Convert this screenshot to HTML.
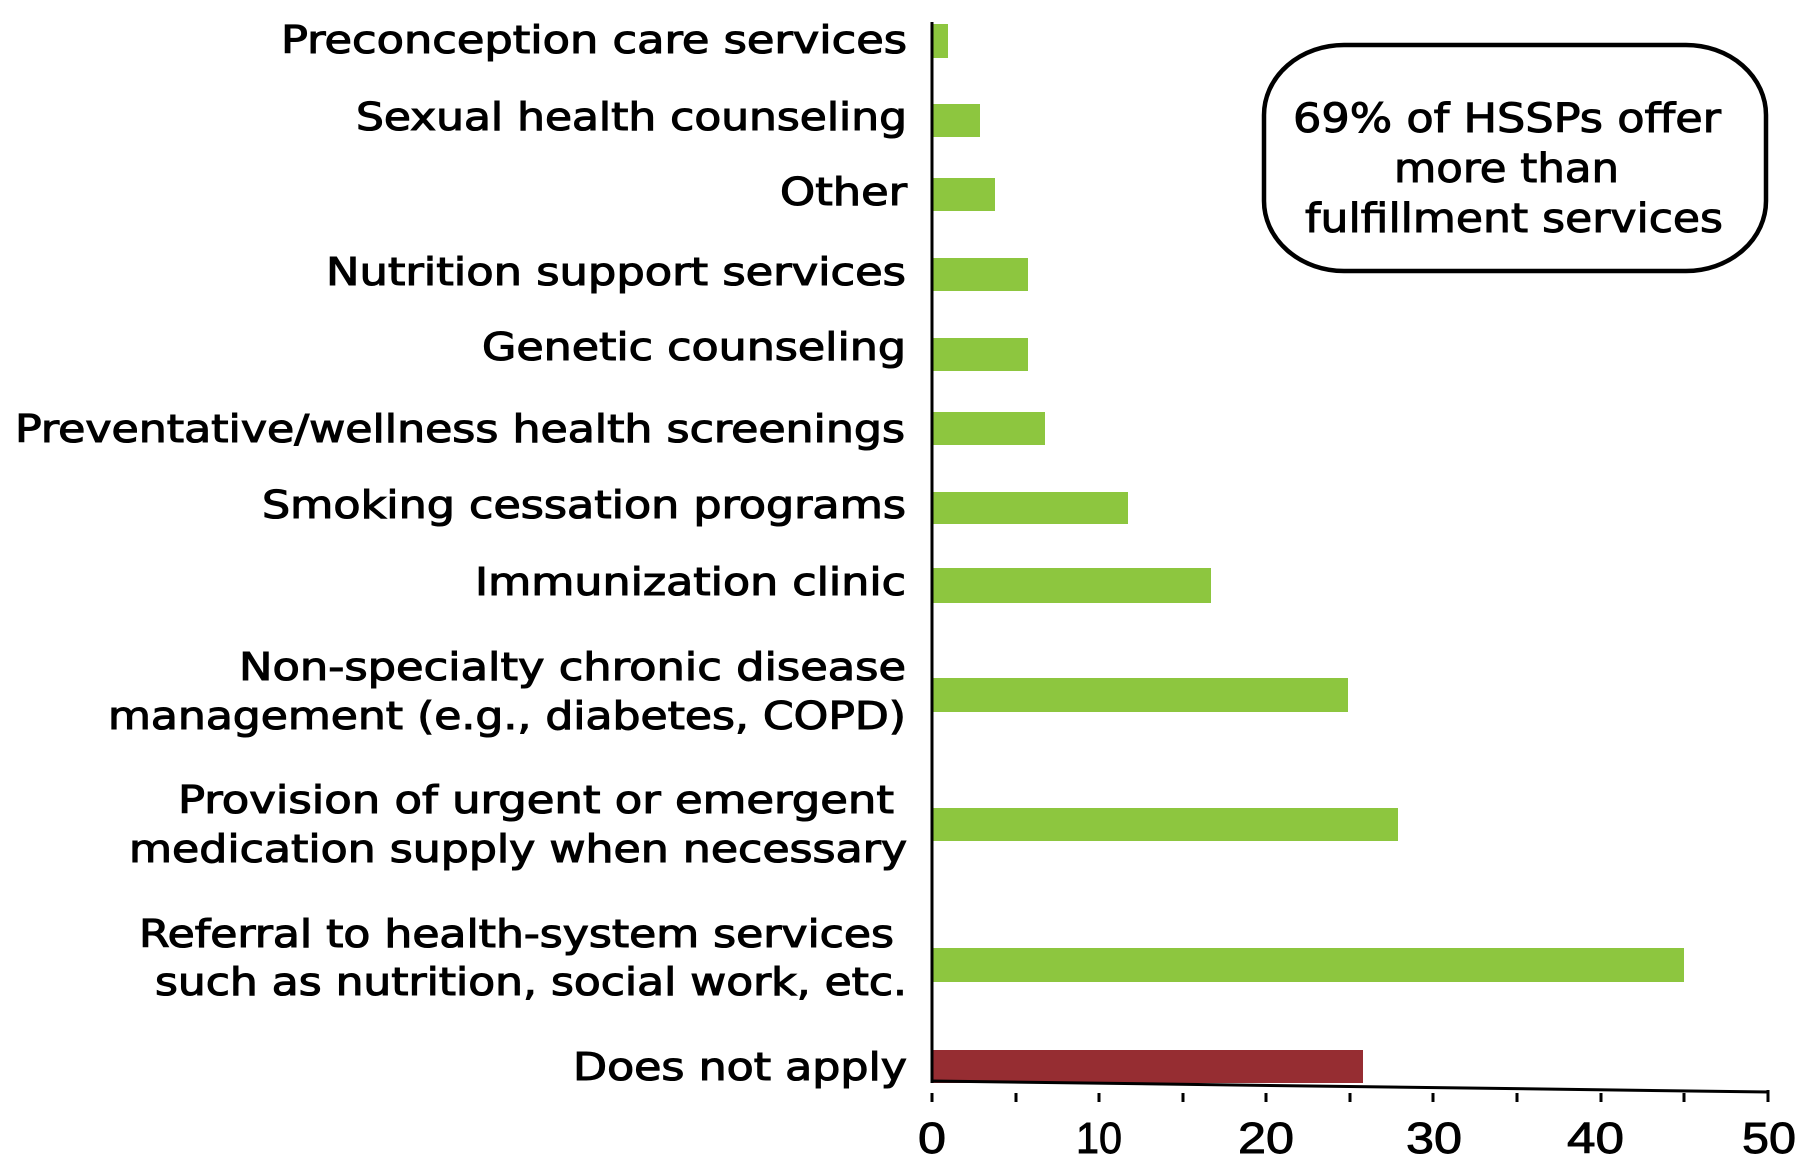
<!DOCTYPE html>
<html>
<head>
<meta charset="utf-8">
<style>
  html, body { margin: 0; padding: 0; background: #ffffff; }
  svg { display: block; }
  .lbl { font-family: "DejaVu Sans", "Liberation Sans", sans-serif; font-size: 38px; fill: #000; stroke: #000; stroke-width: 1.1px; }
  .tick { font-family: "Liberation Sans", sans-serif; font-size: 44px; fill: #000; stroke: #000; stroke-width: 0.9px; }
  .call { font-family: "DejaVu Sans", "Liberation Sans", sans-serif; font-size: 40px; fill: #000; stroke: #000; stroke-width: 1px; }
</style>
</head>
<body>
<svg width="1800" height="1173" viewBox="0 0 1800 1173" xmlns="http://www.w3.org/2000/svg">
  <rect x="0" y="0" width="1800" height="1173" fill="#ffffff"/>

  <!-- bars -->
  <g fill="#8DC63F">
    <rect x="933" y="24" width="15" height="34"/>
    <rect x="933" y="104" width="47" height="33"/>
    <rect x="933" y="178" width="62" height="33"/>
    <rect x="933" y="258" width="95" height="33"/>
    <rect x="933" y="338" width="95" height="33"/>
    <rect x="933" y="412" width="112" height="33"/>
    <rect x="933" y="492" width="195" height="32"/>
    <rect x="933" y="568" width="278" height="35"/>
    <rect x="933" y="678" width="415" height="34"/>
    <rect x="933" y="808" width="465" height="33"/>
    <rect x="933" y="948" width="751" height="34"/>
  </g>
  <rect x="933" y="1050" width="430" height="33" fill="#962D32"/>

  <!-- axes -->
  <line x1="932" y1="22" x2="932" y2="1083" stroke="#000" stroke-width="3"/>
  <line x1="931" y1="1081" x2="1769" y2="1092" stroke="#000" stroke-width="3"/>
  <g stroke="#000" stroke-width="3">
    <line x1="932" y1="1093" x2="932" y2="1102"/>
    <line x1="1016" y1="1093" x2="1016" y2="1102"/>
    <line x1="1099" y1="1093" x2="1099" y2="1102"/>
    <line x1="1183" y1="1093" x2="1183" y2="1102"/>
    <line x1="1266" y1="1093" x2="1266" y2="1102"/>
    <line x1="1350" y1="1093" x2="1350" y2="1102"/>
    <line x1="1433" y1="1093" x2="1433" y2="1102"/>
    <line x1="1517" y1="1093" x2="1517" y2="1102"/>
    <line x1="1601" y1="1093" x2="1601" y2="1102"/>
    <line x1="1684" y1="1093" x2="1684" y2="1102"/>
    <line x1="1768" y1="1090" x2="1768" y2="1102"/>
  </g>

  <!-- tick labels -->
  <g class="tick">
    <text x="918" y="1153" textLength="28" lengthAdjust="spacingAndGlyphs">0</text>
    <text x="1076" y="1153" textLength="46" lengthAdjust="spacingAndGlyphs">10</text>
    <text x="1238" y="1153" textLength="56" lengthAdjust="spacingAndGlyphs">20</text>
    <text x="1406" y="1153" textLength="56" lengthAdjust="spacingAndGlyphs">30</text>
    <text x="1567" y="1153" textLength="57" lengthAdjust="spacingAndGlyphs">40</text>
    <text x="1742" y="1153" textLength="54" lengthAdjust="spacingAndGlyphs">50</text>
  </g>

  <!-- category labels -->
  <g class="lbl">
    <text x="281" y="53" textLength="626" lengthAdjust="spacingAndGlyphs">Preconception care services</text>
    <text x="356" y="130" textLength="551" lengthAdjust="spacingAndGlyphs">Sexual health counseling</text>
    <text x="780" y="205" textLength="127" lengthAdjust="spacingAndGlyphs">Other</text>
    <text x="326" y="285" textLength="580" lengthAdjust="spacingAndGlyphs">Nutrition support services</text>
    <text x="482" y="360" textLength="424" lengthAdjust="spacingAndGlyphs">Genetic counseling</text>
    <text x="15" y="442" textLength="890" lengthAdjust="spacingAndGlyphs">Preventative/wellness health screenings</text>
    <text x="262" y="518" textLength="644" lengthAdjust="spacingAndGlyphs">Smoking cessation programs</text>
    <text x="475" y="595" textLength="431" lengthAdjust="spacingAndGlyphs">Immunization clinic</text>
    <text x="239" y="680" textLength="667" lengthAdjust="spacingAndGlyphs">Non-specialty chronic disease</text>
    <text x="108" y="729" textLength="798" lengthAdjust="spacingAndGlyphs">management (e.g., diabetes, COPD)</text>
    <text x="178" y="813" textLength="716" lengthAdjust="spacingAndGlyphs">Provision of urgent or emergent</text>
    <text x="129" y="862" textLength="778" lengthAdjust="spacingAndGlyphs">medication supply when necessary</text>
    <text x="139" y="947" textLength="755" lengthAdjust="spacingAndGlyphs">Referral to health-system services</text>
    <text x="155" y="995" textLength="752" lengthAdjust="spacingAndGlyphs">such as nutrition, social work, etc.</text>
    <text x="573" y="1080" textLength="334" lengthAdjust="spacingAndGlyphs">Does not apply</text>
  </g>

  <!-- callout -->
  <rect x="1264" y="45" width="502" height="226" rx="80" ry="70" fill="#fff" stroke="#000" stroke-width="4.5"/>
  <g class="call">
    <text x="1293" y="132" textLength="428" lengthAdjust="spacingAndGlyphs">69% of HSSPs offer</text>
    <text x="1394" y="182" textLength="225" lengthAdjust="spacingAndGlyphs">more than</text>
    <text x="1305" y="232" textLength="418" lengthAdjust="spacingAndGlyphs">fulfillment services</text>
  </g>
</svg>
</body>
</html>
